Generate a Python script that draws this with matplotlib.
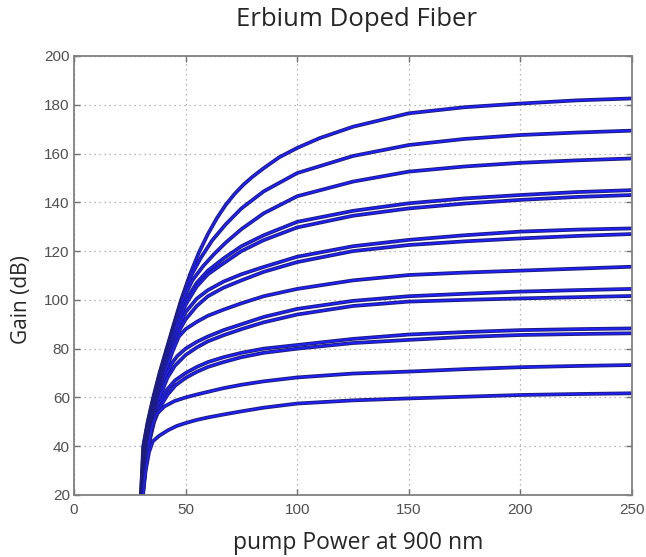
import matplotlib
matplotlib.use("Agg")
import matplotlib.pyplot as plt
import matplotlib.patheffects as pe

# ---- data (pump power mW, gain dB) ----
pump_1 = [30, 30.5, 31, 33, 35.5, 38.3, 41.5, 44.7, 48, 52, 56, 60, 64, 68, 72, 76, 80, 85, 92, 100, 110, 125, 150, 175, 200, 225, 250]
gain_1 = [20, 30, 40, 50, 60, 70, 80, 90, 100, 110.5, 119.5, 127, 133.5, 139, 143.5, 147.3, 150.5, 154, 158.5, 162.3, 166.3, 171, 176.5, 179, 180.5, 181.8, 182.6]

pump_2 = [30, 30.6, 31.2, 33.2, 35.7, 38.6, 41.8, 45, 48.3, 52.5, 57, 62, 68, 75, 85, 100, 125, 150, 175, 200, 225, 250]
gain_2 = [20, 30, 40, 50, 60, 70, 80, 90, 100, 110, 117.5, 124.5, 131, 137.5, 144.5, 152, 159, 163.5, 166, 167.6, 168.6, 169.4]

pump_3 = [30.2, 30.8, 31.4, 33.4, 36, 38.9, 42.1, 45.4, 48.8, 53, 58, 63, 68, 75, 85, 100, 125, 150, 175, 200, 225, 250]
gain_3 = [20, 30, 40, 50, 60, 70, 80, 90, 100, 108, 114, 119, 123.5, 129, 135.5, 142.5, 148.5, 152.6, 154.7, 156.2, 157.2, 158]

pump_4 = [30.3, 30.9, 31.7, 33.7, 36.3, 39.2, 42.5, 45.8, 49.5, 55, 60, 67, 75, 85, 100, 125, 150, 175, 200, 225, 250]
gain_4 = [20, 30, 40, 50, 60, 70, 80, 90, 99, 107, 112, 117, 122, 126.5, 132, 136.5, 139.6, 141.6, 143, 144.2, 145]

pump_5 = [30.4, 31.1, 31.9, 34, 36.6, 39.5, 42.8, 46.2, 50, 55, 60, 67, 75, 85, 100, 125, 150, 175, 200, 225, 250]
gain_5 = [20, 30, 40, 50, 60, 70, 80, 90, 98, 105.5, 110.5, 115, 120, 124.5, 129.7, 134.5, 137.5, 139.5, 141, 142.2, 143]

pump_6 = [30.4, 31.2, 32.1, 34.3, 37, 40, 43.4, 46.8, 50, 55, 60, 67, 75, 85, 100, 125, 150, 175, 200, 225, 250]
gain_6 = [20, 30, 40, 50, 60, 70, 80, 89, 95, 100.5, 104, 107.5, 110.5, 113.5, 117.7, 122, 124.6, 126.5, 128, 128.8, 129.3]

pump_7 = [30.5, 31.3, 32.3, 34.6, 37.3, 40.4, 43.8, 47.5, 50, 55, 60, 67, 75, 85, 100, 125, 150, 175, 200, 225, 250]
gain_7 = [20, 30, 40, 50, 60, 70, 80, 88, 92, 97.5, 101.5, 105, 108, 111.5, 115.5, 120, 122.5, 124, 125.2, 126.2, 127]

pump_8 = [30.5, 31.4, 32.5, 34.9, 37.7, 40.8, 44.2, 47, 50, 55, 60, 67, 75, 85, 100, 125, 150, 175, 200, 225, 250]
gain_8 = [20, 30, 40, 50, 60, 70, 79, 85, 88, 91, 93.5, 96, 98.6, 101.5, 104.5, 108, 110.2, 111.2, 112, 112.8, 113.6]

pump_9 = [30.6, 31.5, 32.7, 35.2, 38, 41.2, 43.8, 46.3, 50, 55, 60, 67, 75, 85, 100, 125, 150, 175, 200, 225, 250]
gain_9 = [20, 30, 40, 50, 60, 69, 74, 77, 80, 82.8, 85, 87.6, 90, 93, 96.3, 99.6, 101.5, 102.5, 103.4, 104, 104.5]

pump_10 = [30.7, 31.6, 32.9, 35.5, 38.4, 41.8, 45.2, 50, 55, 60, 67, 75, 85, 100, 125, 150, 175, 200, 225, 250]
gain_10 = [20, 30, 40, 50, 60, 68, 73, 77.4, 80.5, 83, 85.5, 88, 90.8, 94, 97.5, 99.3, 100, 100.6, 101.1, 101.6]

pump_11 = [30.7, 31.7, 33.1, 35.6, 38.3, 41.5, 45.3, 50, 55, 60, 67, 75, 85, 100, 125, 150, 175, 200, 225, 250]
gain_11 = [20, 30, 40, 50, 57.5, 63, 67, 70, 72.5, 74.5, 76.5, 78.3, 80, 81.5, 84, 85.8, 86.8, 87.6, 88, 88.3]

pump_12 = [30.8, 31.8, 33.3, 35.9, 38.8, 42, 45.5, 50, 55, 60, 67, 75, 85, 100, 125, 150, 175, 200, 225, 250]
gain_12 = [20, 30, 40, 50, 56.5, 61.2, 65, 68, 70.5, 72.5, 74.5, 76.5, 78.3, 80, 82.3, 83.6, 84.8, 85.6, 86, 86.3]

pump_13 = [30.8, 31.9, 33.4, 34.8, 36.8, 40.5, 45, 50, 55, 60, 67, 75, 85, 100, 125, 150, 175, 200, 225, 250]
gain_13 = [20, 30, 40, 47.5, 53, 56.3, 58.5, 60, 61.2, 62.3, 63.8, 65.2, 66.6, 68.2, 69.8, 70.6, 71.6, 72.4, 72.9, 73.3]

pump_14 = [30.9, 32.1, 33.6, 35.3, 38.2, 42, 46, 50, 55, 60, 67, 75, 85, 100, 125, 150, 175, 200, 225, 250]
gain_14 = [20, 30, 37.5, 42, 44.3, 46.5, 48.3, 49.5, 50.8, 51.8, 53, 54.3, 55.8, 57.5, 58.8, 59.6, 60.3, 61, 61.4, 61.7]

x_ticks = [0, 50, 100, 150, 200, 250]
y_ticks = [20, 40, 60, 80, 100, 120, 140, 160, 180, 200]

title_text = "Erbium Doped Fiber"
x_label = "pump Power at 900 nm"
y_label = "Gain (dB)"

curves = [
    (pump_1, gain_1), (pump_2, gain_2), (pump_3, gain_3), (pump_4, gain_4),
    (pump_5, gain_5), (pump_6, gain_6), (pump_7, gain_7), (pump_8, gain_8),
    (pump_9, gain_9), (pump_10, gain_10), (pump_11, gain_11), (pump_12, gain_12),
    (pump_13, gain_13), (pump_14, gain_14),
]

W, H = 646, 557
fig = plt.figure(figsize=(W / 100, H / 100), dpi=100)
fig.patch.set_facecolor("white")

ax_l, ax_r, ax_t, ax_b = 74, 632, 56, 495
ax = fig.add_axes([ax_l / W, 1 - ax_b / H, (ax_r - ax_l) / W, (ax_b - ax_t) / H])

for px, g in curves:
    ax.plot(px, g, color="#2020f5", lw=1.4, solid_capstyle="round", solid_joinstyle="round",
            path_effects=[pe.Stroke(linewidth=2.7, foreground="#1c1c78"), pe.Normal()])

ax.set_xlim(0, 250)
ax.set_ylim(20, 200)
ax.set_xticks(x_ticks)
ax.set_yticks(y_ticks)
ax.grid(True, color="#a0a0a0", linestyle=(0, (1, 3)), linewidth=0.9)
ax.set_axisbelow(True)

for s in ax.spines.values():
    s.set_color("#808080")
    s.set_linewidth(1.3)

tick_font = "Liberation Sans"
ax.tick_params(axis="both", direction="in", length=4, width=1, color="#707070",
               top=True, right=True, labelcolor="#505050", labelsize=11)
ax.tick_params(axis="x", pad=6)
ax.tick_params(axis="y", pad=3)
for lab in ax.get_xticklabels() + ax.get_yticklabels():
    lab.set_fontfamily(tick_font)

label_font = ["Open Sans", "DejaVu Sans"]
fig.text(356 / W, 1 - 19 / H, title_text, ha="center", va="center",
         fontsize=18.5, family=label_font, color="#262626")
fig.text(358 / W, 1 - 543 / H, x_label, ha="center", va="center",
         fontsize=16.5, family=label_font, color="#262626")
fig.text(22 / W, 1 - 300 / H, y_label, ha="center", va="center", rotation=90,
         fontsize=15, family=label_font, color="#262626")

fig.savefig("out.png", dpi=100, facecolor="white")
